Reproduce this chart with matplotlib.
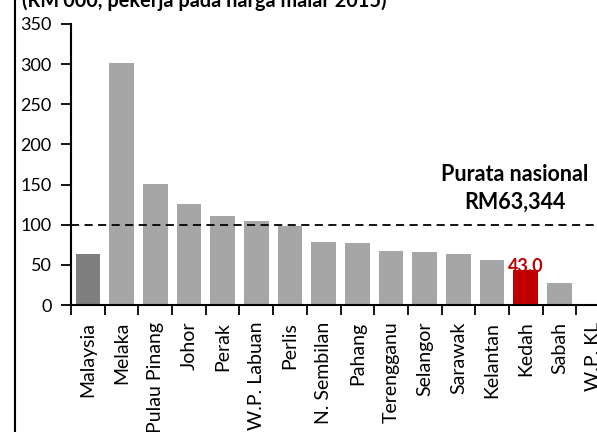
import numpy as np
import matplotlib.pyplot as plt
from matplotlib.lines import Line2D

plt.rcParams['font.family'] = ['Lato', 'DejaVu Sans']

# data (RM'000 per worker, constant 2015 prices)
negeri = ["Malaysia", "Melaka", "Pulau Pinang", "Johor", "Perak", "W.P. Labuan",
          "Perlis", "N. Sembilan", "Pahang", "Terengganu", "Selangor", "Sarawak",
          "Kelantan", "Kedah", "Sabah", "W.P. KL"]
nilai = [63.3, 301.7, 150.8, 125.4, 110.8, 104.6, 98.8, 78.0, 76.8, 67.6,
         66.4, 63.1, 56.4, 43.0, 27.4, np.nan]
paras_purata = 100
yticks = [0, 50, 100, 150, 200, 250, 300, 350]

warna = []
for n in negeri:
    if n == "Malaysia":
        warna.append("#7F7F7F")
    elif n == "Kedah":
        warna.append("#C00000")
    else:
        warna.append("#A6A6A6")

fig = plt.figure(figsize=(5.97, 4.32), dpi=100)
ax = fig.add_axes([71/597, 127/432, 539/597, 281/432])

x = np.arange(len(negeri))
ax.bar(x, nilai, width=0.73, color=warna)

ax.axhline(paras_purata, color="black", lw=1.3, ls=(0, (4.5, 3)))

ax.set_xlim(-0.5, len(negeri) - 0.5)
ax.set_ylim(0, 350)
ax.set_yticks(yticks)
ax.set_xticks(x)
ax.set_xticklabels(negeri, rotation=90, fontsize=14)
ax.set_xticks(np.arange(len(negeri) + 1) - 0.5, minor=True)
ax.tick_params(axis="x", which="major", length=0, pad=12)
ax.tick_params(axis="x", which="minor", length=7, width=1.3, direction="out")
ax.tick_params(axis="y", length=7, width=1.3, labelsize=13, pad=7)

for s in ["top", "right"]:
    ax.spines[s].set_visible(False)
ax.spines["left"].set_linewidth(1.5)
ax.spines["bottom"].set_linewidth(1.5)

# label Kedah
i = negeri.index("Kedah")
ax.text(x[i], nilai[i] - 1.5, f"{nilai[i]:.1f}", color="#C00000", fontweight="bold",
        fontsize=13, ha="center", va="baseline")

ax.text(12.67, 145, "Purata nasional\nRM63,344", fontweight="bold", fontsize=15.5,
        ha="center", va="center", linespacing=1.4)

fig.text(22/597, 1 - 7/432, "(RM'000, pekerja pada harga malar 2015)",
         fontweight="bold", fontsize=14.3, ha="left", va="baseline")

fig.add_artist(Line2D([15/597, 15/597], [0, 1], transform=fig.transFigure,
                      color="black", lw=1.5))

fig.savefig("out.png", dpi=100)
